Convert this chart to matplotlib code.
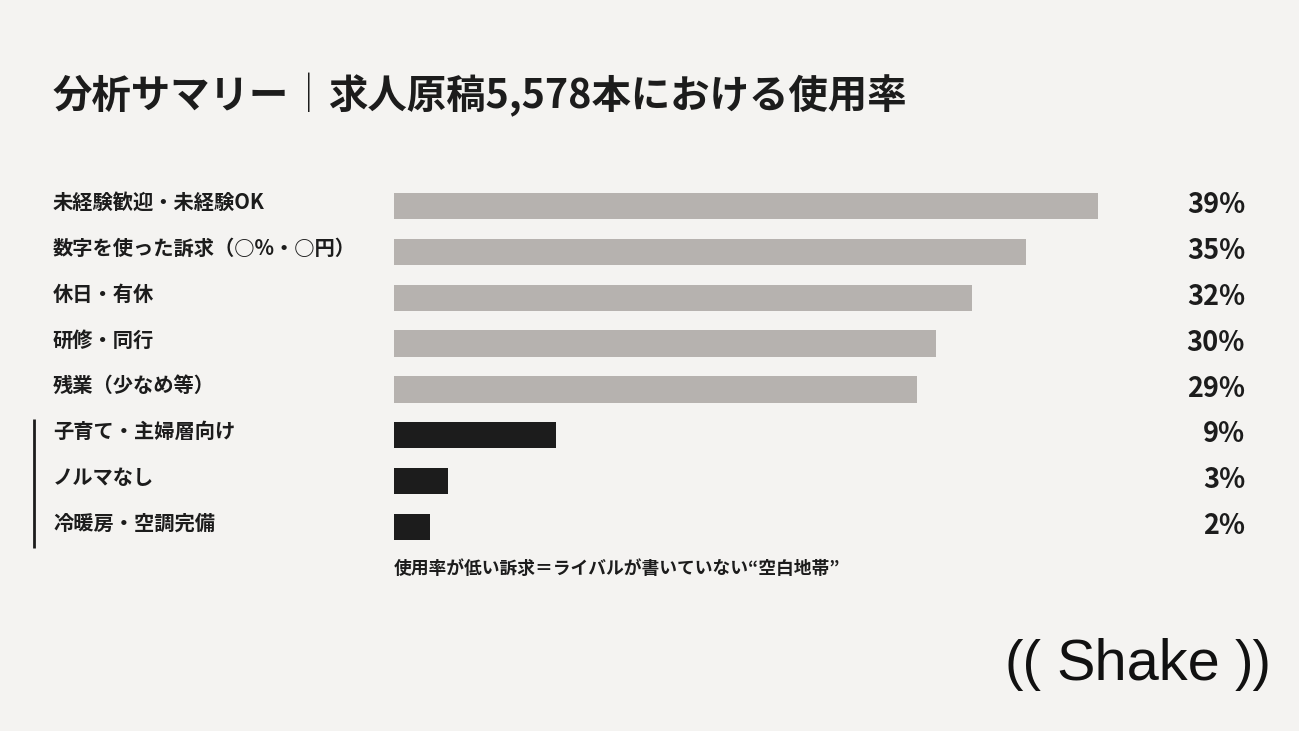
import matplotlib
matplotlib.use("Agg")
import matplotlib.pyplot as plt
import matplotlib.transforms as mtransforms

plt.rcParams['font.family'] = ['Noto Sans CJK JP', 'DejaVu Sans']

# data
labels = ["未経験歓迎・未経験OK", "数字を使った訴求（○%・○円）", "休日・有休", "研修・同行",
          "残業（少なめ等）", "子育て・主婦層向け", "ノルマなし", "冷暖房・空調完備"]
values = [39, 35, 32, 30, 29, 9, 3, 2]
highlight = [False, False, False, False, False, True, True, True]

bg = "#f4f3f1"
gray = "#b6b2af"
dark = "#1c1c1c"
W, H = 1299, 731

fig = plt.figure(figsize=(W / 100, H / 100), dpi=100, facecolor=bg)

# axes placed in pixel coords: x from 394 (0%) with 18.05 px per %
x0 = 394
px_per = 18.05
xmax = 40
top, bottom = 183, 550
ax = fig.add_axes([x0 / W, 1 - bottom / H, xmax * px_per / W, (bottom - top) / H])
ax.set_facecolor(bg)
ax.set_xlim(0, xmax)
ax.set_ylim(len(values) - 0.5, -0.5)
ax.axis('off')

ypos = list(range(len(values)))
colors = [dark if h else gray for h in highlight]
ax.barh(ypos, values, height=0.57, color=colors)

trans = mtransforms.blended_transform_factory(fig.transFigure, ax.transData)
for y, lab, v in zip(ypos, labels, values):
    ax.text(53 / W, y - 0.08, lab, transform=trans, ha='left', va='center',
            fontsize=14.6, fontweight='bold', color=dark)
    ax.text(1245 / W, y - 0.02, f"{v}%", transform=trans, ha='right', va='center',
            fontsize=19.5, fontweight='bold', color=dark)

# bracket line for highlighted group
hi = [y for y, h in zip(ypos, highlight) if h]
ax.plot([34 / W, 34 / W], [hi[0] - 0.35, hi[-1] + 0.45], transform=trans,
        color=dark, lw=2, clip_on=False, solid_capstyle='butt')

# title
fig.text(53 / W, 1 - 96 / H, "分析サマリー", ha='left', va='center',
         fontsize=28.4, fontweight='bold', color=dark)
fig.text(309 / W, 1 - 96 / H, "｜", ha='center', va='center',
         fontsize=28.4, fontweight='light', color=dark)
fig.text(328 / W, 1 - 96 / H, "求人原稿5,578本における使用率", ha='left', va='center',
         fontsize=28.4, fontweight='bold', color=dark)

# note
fig.text(394 / W, 1 - 569 / H, "使用率が低い訴求＝ライバルが書いていない“空白地帯”",
         ha='left', va='center', fontsize=12.8, fontweight='bold', color=dark)

# logo
fig.text(1005 / W, 1 - 665 / H, "((", ha='left', va='center',
         fontsize=40, family='Liberation Sans', color='#111111')
fig.text(1138 / W, 1 - 665 / H, "Shake", ha='center', va='center',
         fontsize=41.5, family='Liberation Sans', color='#111111')
fig.text(1272 / W, 1 - 665 / H, "))", ha='right', va='center',
         fontsize=40, family='Liberation Sans', color='#111111')

fig.savefig("out.png", dpi=100, facecolor=bg)
